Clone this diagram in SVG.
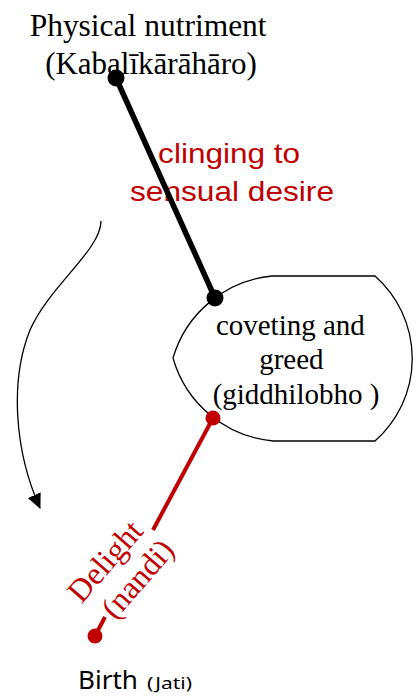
<svg xmlns="http://www.w3.org/2000/svg" width="417" height="697" viewBox="0 0 417 697">
  <style>
    .serif { font-family: "Liberation Serif", "Times New Roman", serif; fill: #000; }
    .red-sans { font-family: "Liberation Sans", Arial, sans-serif; fill: #C00000; }
    .red-serif { font-family: "Liberation Serif", "Times New Roman", serif; fill: #C00000; }
    .sans { font-family: "Noto Sans", "Open Sans", sans-serif; fill: #000; }
    .outline { fill: #fff; stroke: #000; stroke-width: 1.3; }
  </style>
  <defs>
    <marker id="arrowhead" markerWidth="16" markerHeight="14" refX="14" refY="7" orient="auto" markerUnits="userSpaceOnUse">
      <path d="M0,0 L15,7 L0,14 Z" fill="#000"/>
    </marker>
  </defs>
  <rect width="417" height="697" fill="#fff"/>

  <!-- top label -->
  <g id="physical-nutriment">
    <text class="serif" font-size="31" text-anchor="middle">
      <tspan x="152" y="36" textLength="237" lengthAdjust="spacingAndGlyphs">Physical nutriment</tspan>
      <tspan x="151" y="74">(Kabalīkārāhāro)</tspan>
    </text>
  </g>

  <!-- red label beside the black connector -->
  <g id="clinging">
    <text class="red-sans" font-size="28" text-anchor="middle">
      <tspan x="233" y="163" textLength="142" lengthAdjust="spacingAndGlyphs">clinging to</tspan>
      <tspan x="232" y="201" textLength="204" lengthAdjust="spacingAndGlyphs">sensual desire</tspan>
    </text>
  </g>

  <!-- central node -->
  <g id="coveting">
    <path class="outline" d="M272,276 L375,276 A110,110 0 0 1 375,441 L273,441 A115,115 0 0 1 173,358 A115,115 0 0 1 272,276 Z"/>
    <text class="serif" font-size="29" text-anchor="middle">
      <tspan x="294" y="335">coveting and</tspan>
      <tspan x="295" y="369">greed</tspan>
      <tspan x="296" y="404">(giddhilobho )</tspan>
    </text>
  </g>

  <!-- bottom label -->
  <g id="birth">
    <text class="sans" y="689">
      <tspan x="78" font-size="26" textLength="60" lengthAdjust="spacingAndGlyphs">Birth</tspan>
      <tspan x="147" font-size="17" textLength="45" lengthAdjust="spacingAndGlyphs">(Jati)</tspan>
    </text>
  </g>

  <!-- connectors -->
  <g id="connectors">
    <path d="M101,221 C101,250 50,285 30,330 C10,380 14,450 40,508" fill="none" stroke="#000" stroke-width="1.3" marker-end="url(#arrowhead)"/>
    <line x1="116" y1="78" x2="215" y2="298" stroke="#000" stroke-width="5.5"/>
    <circle cx="116" cy="78" r="8.5" fill="#000"/>
    <circle cx="215" cy="298" r="8.5" fill="#000"/>
    <line x1="213" y1="418" x2="153" y2="530" stroke="#C00000" stroke-width="4"/>
    <line x1="105" y1="617" x2="95" y2="636" stroke="#C00000" stroke-width="4"/>
    <circle cx="213" cy="418" r="7.5" fill="#C00000"/>
    <circle cx="95" cy="636" r="7.5" fill="#C00000"/>
    <text class="red-serif" font-size="32" text-anchor="middle" transform="translate(123,569) rotate(-49)">
      <tspan x="-2" y="-8">Delight</tspan>
      <tspan x="2" y="28">(nandi)</tspan>
    </text>
  </g>
</svg>
